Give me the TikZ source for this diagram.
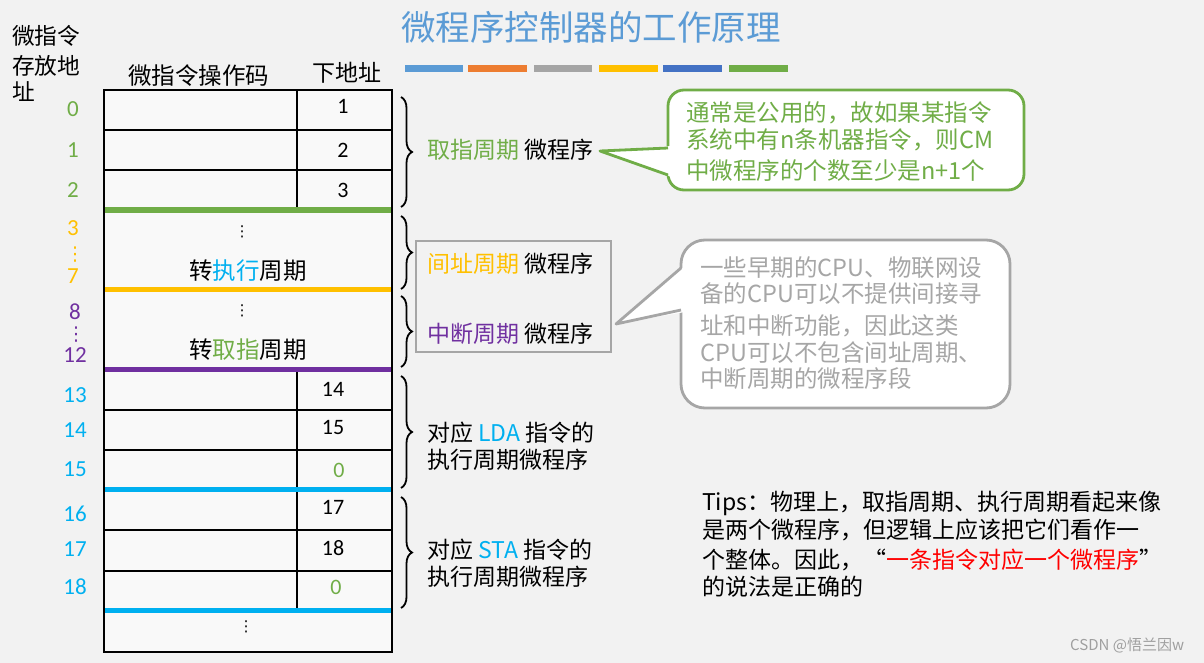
\documentclass[tikz,border=0pt]{standalone}
\usepackage{fontspec}
\setmainfont{Carlito}
\newfontfamily\cjk{Noto Sans CJK SC}
\newfontfamily\djv{DejaVu Sans}
\usetikzlibrary{decorations.pathreplacing}
\definecolor{bg}{HTML}{F2F2F2}
\definecolor{cgreen}{HTML}{70AD47}
\definecolor{cyellow}{HTML}{FFC000}
\definecolor{cpurple}{HTML}{7030A0}
\definecolor{ccyan}{HTML}{00B0F0}
\definecolor{ctitle}{HTML}{5B9BD5}
\definecolor{corange}{HTML}{ED7D31}
\definecolor{cgray}{HTML}{A5A5A5}
\definecolor{cdblue}{HTML}{4472C4}
\definecolor{ctxtgray}{HTML}{A6A6A6}
\definecolor{cred}{HTML}{FF0000}
\newcommand{\fs}[2]{\fontsize{#1}{#2}\selectfont}
\begin{document}
\begin{tikzpicture}[x=1pt,y=-1pt,
  cj/.style={font=\fs{23}{28}\cjk, inner sep=0pt, anchor=base west},
  cjc/.style={font=\fs{23}{28}\cjk, inner sep=0pt, anchor=base},
  num/.style={font=\fs{22}{24}, inner sep=0pt, anchor=base},
  addr/.style={font=\fs{23}{24}, inner sep=0pt, anchor=base},
  dts/.style={font=\fs{15}{16}\djv, inner sep=0pt, anchor=center},
  dtl/.style={font=\fs{19}{20}\djv, inner sep=0pt, anchor=center},
  tbl/.style={line width=2.5pt},
  bar/.style={line width=5pt},
  topbar/.style={line width=7pt},
  brc/.style={decorate, decoration={brace, amplitude=11pt}, line width=1.8pt},
  bubble/.style={line width=2.8pt, fill=white},
]
\useasboundingbox (0,0) rectangle (1204,663);
\fill[bg] (0,0) rectangle (1204,663);

% title and colour bars
\node[font=\fs{34.5}{36}\cjk, text=ctitle, inner sep=0pt, anchor=base] (title) at (591,41) {微程序控制器的工作原理};
\draw[topbar, ctitle] (405,68.5) -- (463,68.5);
\draw[topbar, corange] (468,68.5) -- (527,68.5);
\draw[topbar, cgray] (534,68.5) -- (592,68.5);
\draw[topbar, cyellow] (599,68.5) -- (658,68.5);
\draw[topbar, cdblue] (663,68.5) -- (722,68.5);
\draw[topbar, cgreen] (729,68.5) -- (788,68.5);

% headers
\node[cj, font=\fs{22.7}{28}\cjk] (h1) at (12,44.5) {微指令};
\node[cj, font=\fs{22.7}{28}\cjk] (h2) at (12,74.5) {存放地};
\node[cj, font=\fs{22.7}{28}\cjk] (h3) at (12,100.5) {址};
\node[cj, font=\fs{23.5}{28}\cjk] (c1) at (128,85) {微指令操作码};
\node[cj] (c2) at (312,82) {下地址};

% table
\fill[white!55!bg] (104,90) rectangle (392,652);
\draw[tbl] (297,90) -- (297,210);
\draw[tbl] (297,369) -- (297,610);
\draw[tbl] (104,130) -- (392,130);
\draw[tbl] (104,170) -- (392,170);
\draw[tbl] (104,410) -- (392,410);
\draw[tbl] (104,450) -- (392,450);
\draw[tbl] (104,530) -- (392,530);
\draw[tbl] (104,571) -- (392,571);
\draw[tbl] (104,90) rectangle (392,652);
\draw[bar, cgreen] (105,210) -- (391,210);
\draw[bar, cyellow] (105,289) -- (391,289);
\draw[bar, cpurple] (105,369) -- (391,369);
\draw[bar, ccyan] (105,489) -- (391,489);
\draw[bar, ccyan] (105,610) -- (391,610);

% next addresses
\node[num] (n1) at (343,114) {1};
\node[num] (n2) at (343,158) {2};
\node[num] (n3) at (343,197) {3};
\node[num] (n14) at (333,396) {14};
\node[num] (n15) at (333,434) {15};
\node[num, text=cgreen] (n0a) at (339,477) {0};
\node[num] (n17) at (333,514) {17};
\node[num] (n18) at (333,555) {18};
\node[num, text=cgreen] (n0b) at (336,594) {0};

% cell texts
\node[dts] (td1) at (242,232) {⋮};
\node[cjc, font=\fs{23.5}{28}\cjk] (t1) at (248,279) {转{\color{ccyan}执行}周期};
\node[dts] (td2) at (242,311) {⋮};
\node[cjc, font=\fs{23.5}{28}\cjk] (t2) at (248,358) {转{\color{cgreen}取指}周期};
\node[dts] (td3) at (246,627) {⋮};

% addresses
\node[addr, text=cgreen] (a0) at (73,117) {0};
\node[addr, text=cgreen] (a1) at (73,158) {1};
\node[addr, text=cgreen] (a2) at (73,197) {2};
\node[addr, text=cyellow] (a3) at (73,235) {3};
\node[dtl, text=cyellow] (ad1) at (75,255) {⋮};
\node[addr, text=cyellow] (a7) at (73,283) {7};
\node[addr, text=cpurple] (a8) at (75,319) {8};
\node[dtl, text=cpurple] (ad2) at (76,335) {⋮};
\node[addr, text=cpurple] (a12) at (75,362) {12};
\node[addr, text=ccyan] (a13) at (75,402) {13};
\node[addr, text=ccyan] (a14) at (75,437) {14};
\node[addr, text=ccyan] (a15) at (75,476) {15};
\node[addr, text=ccyan] (a16) at (75,521) {16};
\node[addr, text=ccyan] (a17) at (75,556) {17};
\node[addr, text=ccyan] (a18) at (75,594) {18};

% braces
\coordinate (b1t) at (401,97);  \coordinate (b1b) at (401,207);
\coordinate (b2t) at (401,216); \coordinate (b2b) at (401,289);
\coordinate (b3t) at (401,296); \coordinate (b3b) at (401,367);
\coordinate (b4t) at (401,376); \coordinate (b4b) at (401,488);
\coordinate (b5t) at (401,497); \coordinate (b5b) at (401,608);
\draw[brc] (b1t) -- (b1b);
\draw[brc] (b2t) -- (b2b);
\draw[brc] (b3t) -- (b3b);
\draw[brc] (b4t) -- (b4b);
\draw[brc] (b5t) -- (b5b);

% brace labels
\node[cj] (L1) at (427,159) {{\color{cgreen}取指周期} 微程序};
\node[cj] (L2) at (427,272) {{\color{cyellow}间址周期} 微程序};
\node[cj] (L3) at (427,342) {{\color{cpurple}中断周期} 微程序};
\draw[ctxtgray, line width=2.5pt] (416,241) rectangle (611,352);
\node[cj] (L4a) at (427,441) {对应 {\color{ccyan}LDA} 指令的};
\node[cj] (L4b) at (427,468) {执行周期微程序};
\node[cj] (L5a) at (427,558) {对应 {\color{ccyan}STA} 指令的};
\node[cj] (L5b) at (427,585) {执行周期微程序};

% green bubble
\draw[bubble, draw=cgreen, rounded corners=16pt] (668,90) rectangle (1024,190);
\coordinate (gtip) at (600,151);
\coordinate (gu) at (668,148);
\coordinate (gl) at (668,175);
\fill[white] (672,146) -- (gtip) -- (672,177) -- cycle;
\draw[cgreen, line width=2.8pt, line join=round] (gu) -- (gtip) -- (gl);
\node[cj, font=\fs{23.5}{28}\cjk, text=cgreen] (g1) at (686,122) {通常是公用的，故如果某指令};
\node[cj, font=\fs{23.5}{28}\cjk, text=cgreen] (g2) at (686,149) {系统中有n条机器指令，则CM};
\node[cj, font=\fs{23.5}{28}\cjk, text=cgreen] (g3) at (686,179) {中微程序的个数至少是n+1个};

% gray bubble
\draw[bubble, draw=ctxtgray, rounded corners=24pt] (681,240) rectangle (1010,408);
\coordinate (ytip) at (616,324);
\coordinate (yu) at (681,268);
\coordinate (yl) at (681,310);
\fill[white] (685,266) -- (ytip) -- (685,312) -- cycle;
\draw[ctxtgray, line width=2.8pt, line join=round] (yu) -- (ytip) -- (yl);
\node[cj, font=\fs{23.5}{28}\cjk, text=ctxtgray] (y1) at (700,276) {一些早期的CPU、物联网设};
\node[cj, font=\fs{23.5}{28}\cjk, text=ctxtgray] (y2) at (700,302) {备的CPU可以不提供间接寻};
\node[cj, font=\fs{23.5}{28}\cjk, text=ctxtgray] (y3) at (700,334) {址和中断功能，因此这类};
\node[cj, font=\fs{23.5}{28}\cjk, text=ctxtgray] (y4) at (700,361) {CPU可以不包含间址周期、};
\node[cj, font=\fs{23.5}{28}\cjk, text=ctxtgray] (y5) at (700,387) {中断周期的微程序段};

% tips
\node[cj] (tp1) at (702,510) {Tips：物理上，取指周期、执行周期看起来像};
\node[cj] (tp2) at (702,538) {是两个微程序，但逻辑上应该把它们看作一};
\node[cj] (tp3) at (702,568) {个整体。因此，“{\color{cred}一条指令对应一个微程序}”};
\node[cj] (tp4) at (702,595) {的说法是正确的};

\node[font=\fs{15}{16}\cjk, text=gray!75, inner sep=0pt, anchor=base west] (csdn) at (1070,650) {CSDN @悟兰因w};
\end{tikzpicture}
\end{document}
